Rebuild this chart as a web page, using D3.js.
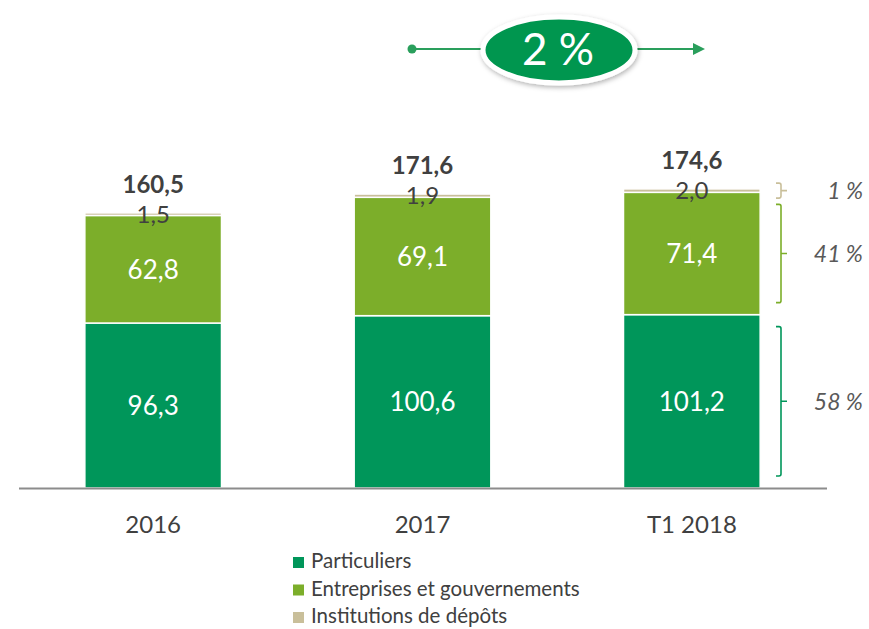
<!DOCTYPE html>
<meta charset="utf-8">
<style>

body {
  margin: 0;
  font-family: Lato, "Open Sans", sans-serif;
  background: #fff;
}

.axis path {
  stroke: #8c8c8c;
  stroke-width: 2px;
}

.axis text {
  font-family: Lato, sans-serif;
  font-size: 24px;
  fill: #404040;
}

</style>
<body>
<script src="https://d3js.org/d3.v7.js"></script>
<script>

const width = 869;
const height = 629;

// data
const categories = ["2016", "2017", "T1 2018"];
const seriesNames = ["Particuliers", "Entreprises et gouvernements", "Institutions de dépôts"];
const particuliers = [96.3, 100.6, 101.2];
const entreprises = [62.8, 69.1, 71.4];
const institutions = [1.5, 1.9, 2.0];
const totals = [160.5, 171.6, 174.6];
const growthLabel = "2 %";

const colors = ["#00965a", "#7cae2a", "#c9bf9a"];

const rows = categories.map((c, i) => ({
  cat: c,
  Particuliers: particuliers[i],
  "Entreprises et gouvernements": entreprises[i],
  "Institutions de dépôts": institutions[i],
  total: totals[i]
}));

const stack = d3.stack().keys(seriesNames)(rows);

const x = d3.scaleBand()
    .domain(categories)
    .range([18.5, 826.5])
    .paddingInner(0.4926)
    .paddingOuter(0.2463);

const y = d3.scaleLinear()
    .domain([0, 200])
    .range([488, 145.4]);

const color = d3.scaleOrdinal(seriesNames, colors);

const svg = d3.select("body").append("svg")
    .attr("width", width)
    .attr("height", height);

const defs = svg.append("defs");
const shadow = defs.append("filter")
    .attr("id", "shadow")
    .attr("x", "-20%").attr("y", "-30%")
    .attr("width", "140%").attr("height", "160%");
shadow.append("feDropShadow")
    .attr("dx", 1).attr("dy", 2)
    .attr("stdDeviation", 2.5)
    .attr("flood-color", "#000")
    .attr("flood-opacity", 0.3);

// bars
svg.append("g")
  .selectAll("g")
  .data(stack)
  .join("g")
    .attr("fill", d => color(d.key))
  .selectAll("rect")
  .data(d => d)
  .join("rect")
    .attr("x", d => x(d.data.cat))
    .attr("width", x.bandwidth())
    .attr("y", d => y(d[1]))
    .attr("height", d => y(d[0]) - y(d[1]))
    .attr("stroke", "#fff")
    .attr("stroke-width", 1.5);

// axis
svg.append("g")
    .attr("class", "axis")
    .attr("transform", "translate(0,488)")
    .call(d3.axisBottom(x).tickSize(0).tickSizeOuter(0).tickPadding(28));

const fmt = v => d3.format(".1f")(v).replace(".", ",");

// white labels inside the two big segments
svg.append("g")
  .selectAll("text")
  .data(stack.slice(0, 2).flatMap(s => s))
  .join("text")
    .attr("x", d => x(d.data.cat) + x.bandwidth() / 2)
    .attr("y", d => (y(d[0]) + y(d[1])) / 2)
    .attr("dy", "0.36em")
    .attr("text-anchor", "middle")
    .attr("fill", "#fff")
    .style("font-size", "26px")
    .text(d => fmt(d[1] - d[0]));

// institutions labels above
svg.append("g")
  .selectAll("text")
  .data(stack[2])
  .join("text")
    .attr("x", d => x(d.data.cat) + x.bandwidth() / 2)
    .attr("y", d => y(d[1]) + 10)
    .attr("text-anchor", "middle")
    .attr("fill", "#404040")
    .style("font-size", "24px")
    .text(d => fmt(d[1] - d[0]));

// totals
svg.append("g")
  .selectAll("text")
  .data(rows)
  .join("text")
    .attr("x", d => x(d.cat) + x.bandwidth() / 2)
    .attr("y", (d, i) => y(stack[2][i][1]) - 20)
    .attr("text-anchor", "middle")
    .attr("fill", "#404040")
    .style("font-size", "24px")
    .style("font-weight", "bold")
    .text(d => fmt(d.total));

// brackets for last bar shares
const last = rows.length - 1;
const bx0 = 776, bx1 = 781, btip = 787;
const brackets = stack.map(s => {
  const d = s[last];
  let y0 = y(d[1]), y1 = y(d[0]);
  const mid = (y0 + y1) / 2;
  if (y1 - y0 < 40) {
    y0 = mid - 7.5; y1 = mid + 7.5;
  } else {
    y0 += 12; y1 -= 12;
  }
  return {key: s.key, y0, y1, mid, share: Math.round((d[1] - d[0]) / rows[last].total * 100)};
});

const bg = svg.append("g")
  .selectAll("g")
  .data(brackets)
  .join("g");

bg.append("path")
    .attr("fill", "none")
    .attr("stroke", d => color(d.key))
    .attr("stroke-width", 1.6)
    .attr("d", d => `M${bx0},${d.y0} H${bx1 - 2} Q${bx1},${d.y0} ${bx1},${d.y0 + 2}
      V${d.y1 - 2} Q${bx1},${d.y1} ${bx1 - 2},${d.y1} H${bx0}
      M${bx1},${d.mid} H${btip}`);

bg.append("text")
    .attr("x", 863)
    .attr("y", d => d.mid)
    .attr("dy", "0.36em")
    .attr("text-anchor", "end")
    .attr("fill", "#595959")
    .style("font-size", "23px")
    .style("font-style", "italic")
    .text(d => d.share + " %");

// growth arrow
const growth = svg.append("g");
const lineColor = "#2a9f5c";
growth.append("line")
    .attr("x1", 412).attr("y1", 49)
    .attr("x2", 694).attr("y2", 49)
    .attr("stroke", lineColor)
    .attr("stroke-width", 2);
growth.append("circle")
    .attr("cx", 412).attr("cy", 49).attr("r", 4.5)
    .attr("fill", lineColor);
growth.append("path")
    .attr("d", "M693,43 L705,49 L693,55 Z")
    .attr("fill", lineColor);
growth.append("ellipse")
    .attr("cx", 559).attr("cy", 50)
    .attr("rx", 76).attr("ry", 33)
    .attr("fill", "#00964f")
    .attr("stroke", "#fff")
    .attr("stroke-width", 5)
    .attr("filter", "url(#shadow)");
growth.append("text")
    .attr("x", 558).attr("y", 65)
    .attr("text-anchor", "middle")
    .attr("fill", "#fff")
    .style("font-size", "44px")
    .text(growthLabel);

// legend
const legend = svg.append("g")
  .selectAll("g")
  .data(seriesNames)
  .join("g")
    .attr("transform", (d, i) => `translate(293, ${568 + i * 27.5})`);

legend.append("rect")
    .attr("y", -11)
    .attr("width", 11)
    .attr("height", 11)
    .attr("fill", d => color(d));

legend.append("text")
    .attr("x", 18)
    .attr("fill", "#404040")
    .style("font-size", "20.5px")
    .text(d => d);

</script>
